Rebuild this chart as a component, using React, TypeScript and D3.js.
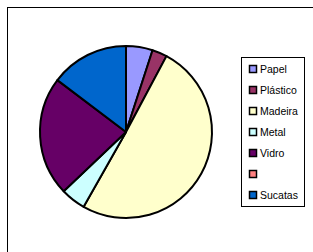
import React from "react";
import * as d3 from "d3";

const categories = ["Papel", "Plástico", "Madeira", "Metal", "Vidro", "", "Sucatas"];
const values = [5.0, 2.8, 50.4, 4.7, 22.4, 0, 14.7];
const colors = ["#9999FF", "#993366", "#FFFFCC", "#CCFFFF", "#660066", "#FF8080", "#0066CC"];

const width = 313;
const height = 252;

export default function App() {
  const cx = 126;
  const cy = 132;
  const r = 86;

  const pie = d3.pie<number>().sort(null).value(d => d);
  const arcs = pie(values);
  const arc = d3.arc<d3.PieArcDatum<number>>().innerRadius(0).outerRadius(r);

  const legendX = 241;
  const legendY = 57;
  const rowY = d3.scaleLinear().domain([0, categories.length - 1]).range([legendY + 12, legendY + 138]);

  return (
    <svg width={width} height={height} style={{ position: "absolute", left: 0, top: 0 }}>
      <rect x={0} y={0} width={width} height={height} fill="#fff" />
      <rect x={7.5} y={7.5} width={width + 10} height={height + 10} fill="none" stroke="#000" strokeWidth={1} />
      <g transform={`translate(${cx},${cy})`}>
        {arcs.map((a, i) =>
          a.value > 0 ? (
            <path key={i} d={arc(a) || ""} fill={colors[i]} stroke="#000" strokeWidth={2} strokeLinejoin="round" />
          ) : null
        )}
      </g>
      <rect x={legendX + 0.5} y={legendY + 0.5} width={63} height={149} fill="#fff" stroke="#000" strokeWidth={1} />
      {categories.map((c, i) => (
        <g key={i} transform={`translate(${legendX + 8},${rowY(i)})`}>
          <rect x={0.5} y={-3.5} width={7} height={7} fill={colors[i]} stroke="#000" strokeWidth={1.5} />
          <text x={11} y={3.8} fontFamily="Liberation Sans, Arial, sans-serif" fontSize={10.5} fill="#000">
            {c}
          </text>
        </g>
      ))}
    </svg>
  );
}
